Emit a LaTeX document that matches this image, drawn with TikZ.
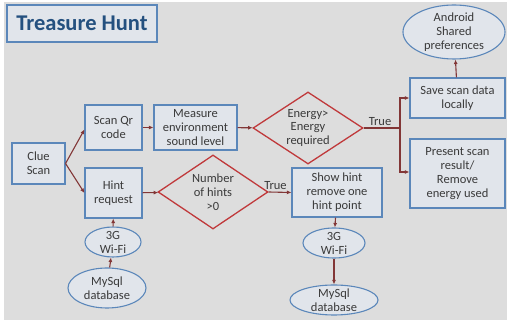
\documentclass[tikz,border=0pt]{standalone}
\usepackage{fontspec}
\setmainfont{Carlito}
\usepackage{xcolor}
\usetikzlibrary{arrows.meta,positioning,shapes.geometric,calc}
\definecolor{slidegray}{HTML}{DDDDDD}
\definecolor{boxfill}{HTML}{E1E5EB}
\definecolor{boxblue}{HTML}{5B87BA}
\definecolor{titleblue}{HTML}{24507F}
\definecolor{flowred}{HTML}{823636}
\definecolor{decred}{HTML}{C0393B}
\definecolor{inktext}{HTML}{3A3A3A}

\begin{document}
\begin{tikzpicture}[
    x=1pt, y=-1pt,
    every node/.style={font=\fontsize{12.5}{14}\selectfont, text=inktext},
    stepbox/.style={draw=boxblue, line width=1.1pt, fill=boxfill, align=center, inner sep=1pt},
    store/.style={ellipse, draw=boxblue, line width=1.1pt, fill=boxfill, align=center, inner sep=-3pt},
    check/.style={diamond, aspect=1.5, draw=decred, line width=1.3pt, align=center, inner sep=0pt},
    arrow/.style={-{Latex[length=4.5pt,width=4pt]}, line width=1.1pt, draw=flowred}
]
\fill[white] (0,0) rectangle (507,320);
\fill[slidegray] (4,2) rectangle (507,320);
\useasboundingbox (0,0) rectangle (507,320);

\node[draw=boxblue, line width=1.1pt, fill=boxfill, minimum width=150pt, minimum height=37pt,
      font=\fontsize{22.5}{26}\selectfont\bfseries, text=titleblue] (title) at (82,23.5) {Treasure Hunt};

\node[stepbox, minimum width=53pt, minimum height=41pt] (clue) at (38.5,163.5) {Clue\\Scan};
\node[stepbox, minimum width=57pt, minimum height=45pt] (qr) at (113.5,127.5) {Scan Qr\\code};
\node[stepbox, minimum width=83pt, minimum height=45pt] (measure) at (195.5,127.5) {Measure\\environment\\sound level};
\node[check, minimum width=110pt, minimum height=72pt] (energy) at (308,128) {Energy>\\Energy\\required};
\coordinate (branch) at (400,128);
\node[stepbox, minimum width=95pt, minimum height=40pt] (save) at (457.5,98) {Save scan data\\locally};
\node[store, minimum width=102pt, minimum height=54pt] (android) at (454,32) {Android\\Shared\\preferences};
\node[stepbox, minimum width=95pt, minimum height=69pt] (present) at (457.5,173.5) {Present scan\\result/\\Remove\\energy used};

\node[stepbox, minimum width=57pt, minimum height=50pt] (hint) at (113.5,193) {Hint\\request};
\node[check, minimum width=110pt, minimum height=74pt] (hints) at (213,192) {Number\\of hints\\>0};
\node[stepbox, minimum width=90pt, minimum height=49pt] (show) at (337,192.5) {Show hint\\remove one\\hint point};

\node[store, minimum width=56pt, minimum height=30pt] (wifia) at (113,242) {3G\\Wi-Fi};
\node[store, minimum width=78pt, minimum height=40pt] (dba) at (107,288) {MySql\\database};
\node[store, minimum width=62pt, minimum height=30pt] (wifib) at (334,243) {3G\\Wi-Fi};
\node[store, minimum width=88pt, minimum height=30pt] (dbb) at (334,300) {MySql\\database};

\draw[arrow] (clue.east) -- ($(qr.west)+(0,2)$);
\draw[arrow] (clue.east) -- (hint.west);
\draw[arrow] (qr) -- (measure);
\draw[arrow] (measure) -- (energy);
\draw[line width=1.1pt, draw=flowred] (energy.east) -- node[above=-1pt, pos=0.45] {True} (branch);
\draw[arrow] (branch) |- (save.west);
\draw[arrow] (branch) |- ($(present.west)+(0,-1.5)$);
\draw[arrow] (save) -- (android);
\draw[arrow] (hint) -- (hints);
\draw[arrow] (hints.east) -- node[above=-1pt, pos=0.3] {True} (show.west);
\draw[arrow] (dba) -- (wifia);
\draw[arrow] (wifia) -- (hint);
\draw[arrow] (show) -- (wifib);
\draw[arrow] (wifib) -- (dbb);
\end{tikzpicture}
\end{document}
